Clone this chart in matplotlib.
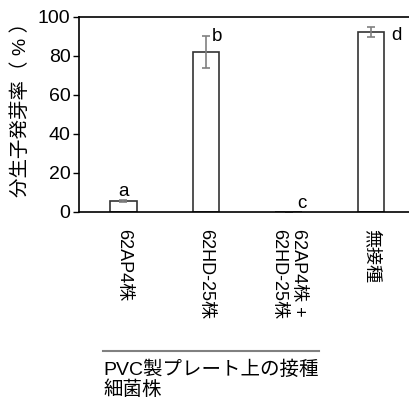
import matplotlib
matplotlib.use('Agg')
import matplotlib.pyplot as plt
from matplotlib.lines import Line2D
import numpy as np

plt.rcParams['font.family'] = ['Liberation Sans', 'Noto Sans CJK JP']

categories = ['62AP4株', '62HD-25株', '62AP4株 +\n62HD-25株', '無接種']
values = [5.5, 82.0, 0.0, 92.3]
errors = [0.5, 8.2, 0.0, 2.6]
letters = ['a', 'b', 'c', 'd']
# letter placement relative to top of error bar (dx in bar units, dy in %)
letter_off = [(0.0, 4.3), (0.13, 0.0), (0.16, 4.1), (0.31, -4.6)]

ylabel = '分生子発芽率（ % ）'
group_label = 'PVC製プレート上の接種\n細菌株'

fig = plt.figure(figsize=(4.09, 4.03), dpi=100)
ax = fig.add_axes([0.193, 0.474, 0.807, 0.484])

x = np.arange(len(categories))
ax.bar(x, values, width=0.32, color='white', edgecolor='#333333', linewidth=1.2,
       yerr=errors, error_kw=dict(ecolor='#808080', elinewidth=1.2, capsize=3, capthick=1.2))

for i, (v, e) in enumerate(zip(values, errors)):
    dx, dy = letter_off[i]
    ax.text(i + dx, v + e + dy, letters[i], ha='center', va='center', fontsize=13.5)

ax.set_xlim(-0.54, 3.46)
ax.set_ylim(0, 100)
ax.set_yticks(range(0, 101, 20))
ax.set_xticks(x)
ax.set_xticklabels(categories, rotation=270, ha='center', va='top', multialignment='left')
ax.tick_params(axis='x', length=0, pad=12, labelsize=13)
ax.tick_params(axis='y', length=4, width=1, pad=2, labelsize=14)
ax.spines['right'].set_visible(False)
for s in ['left', 'bottom', 'top']:
    ax.spines[s].set_linewidth(1.2)
ax.set_ylabel(ylabel, fontsize=14)
ax.yaxis.set_label_coords(-0.148, 0.55)

fig.add_artist(Line2D([0.252, 0.780], [0.129, 0.129], color='#808080', linewidth=1.5,
                      transform=fig.transFigure))
fig.text(0.252, 0.104, group_label, ha='left', va='top', fontsize=14, linespacing=1.1)

fig.savefig('out.png', dpi=100)
